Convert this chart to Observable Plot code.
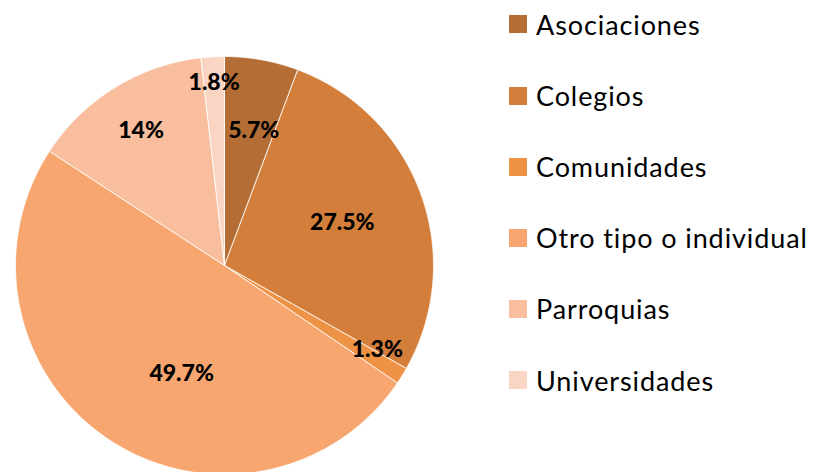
<!DOCTYPE html>
<html>
<head>
<meta charset="utf-8">
<script src="https://cdn.jsdelivr.net/npm/d3@7"></script>
<script src="https://cdn.jsdelivr.net/npm/@observablehq/plot@0.6"></script>
<style>
  html, body { margin: 0; padding: 0; background: #fff; overflow: hidden; }
  #wrap { position: relative; width: 816px; height: 472px; }
  #chart { position: absolute; left: 0; top: 0; }
  #legend { position: absolute; left: 509px; top: 0; font-family: Lato, "Open Sans", sans-serif; }
  .item { position: absolute; left: 0; display: flex; align-items: center; white-space: nowrap; }
  .sw { width: 18px; height: 18px; margin-right: 9px; flex: none; }
  .lab { font-size: 27px; letter-spacing: 0.9px; color: #000; line-height: 1; }
</style>
</head>
<body>
<div id="wrap"><div id="chart"></div><div id="legend"></div></div>
<script>
const categories = ["Asociaciones", "Colegios", "Comunidades", "Otro tipo o individual", "Parroquias", "Universidades"];
const values = [5.7, 27.5, 1.3, 49.7, 14, 1.8];
const labels = ["5.7%", "27.5%", "1.3%", "49.7%", "14%", "1.8%"];
const colors = ["#B46E35", "#D37F3B", "#EE9246", "#F6A66E", "#F8BE9E", "#FAD5C4"];

// label placement tuning (fraction of radius, angle shift in degrees)
const labelRadius = [0.66, 0.6, 0.835, 0.555, 0.76, 0.876];
const labelShift = [2, 0, -3, -12, 0, 0];

const pie = d3.pie().sort(null).value(d => d.value).startAngle(0).endAngle(2 * Math.PI);
const data = categories.map((name, i) => ({name, value: values[i], label: labels[i]}));
const arcs = pie(data);

const poly = [];
arcs.forEach(a => {
  const name = a.data.name;
  poly.push({name, x: 0, y: 0});
  const n = Math.max(2, Math.ceil((a.endAngle - a.startAngle) / (Math.PI / 360)));
  for (let k = 0; k <= n; k++) {
    const t = a.startAngle + (a.endAngle - a.startAngle) * k / n;
    poly.push({name, x: Math.sin(t), y: Math.cos(t)});
  }
  poly.push({name, x: 0, y: 0});
});

const labelPts = arcs.map((a, i) => {
  const m = (a.startAngle + a.endAngle) / 2 + labelShift[i] * Math.PI / 180;
  return {x: labelRadius[i] * Math.sin(m), y: labelRadius[i] * Math.cos(m), label: a.data.label};
});

const chart = Plot.plot({
  width: 816,
  height: 472,
  margin: 0,
  x: {domain: [-1, 1], range: [15, 433], axis: null},
  y: {domain: [-1, 1], range: [474, 56], axis: null},
  color: {domain: categories, range: colors},
  style: {background: "transparent", overflow: "visible"},
  marks: [
    Plot.line(poly, {x: "x", y: "y", z: "name", fill: "name", stroke: "white", strokeWidth: 0.8, curve: "linear"}),
    Plot.text(labelPts, {x: "x", y: "y", text: "label", fontSize: 23, fontWeight: "900", fill: "#000", fontFamily: "Lato, 'Open Sans', sans-serif"})
  ]
});
document.getElementById("chart").appendChild(chart);

const legend = document.getElementById("legend");
const rowY = [24, 95.5, 166.5, 237.5, 308.5, 380];
categories.forEach((c, i) => {
  const it = document.createElement("div");
  it.className = "item";
  it.style.top = (rowY[i] - 16) + "px";
  it.style.height = "32px";
  it.innerHTML = `<div class="sw" style="background:${colors[i]}"></div><span class="lab">${c}</span>`;
  legend.appendChild(it);
});
</script>
</body>
</html>
